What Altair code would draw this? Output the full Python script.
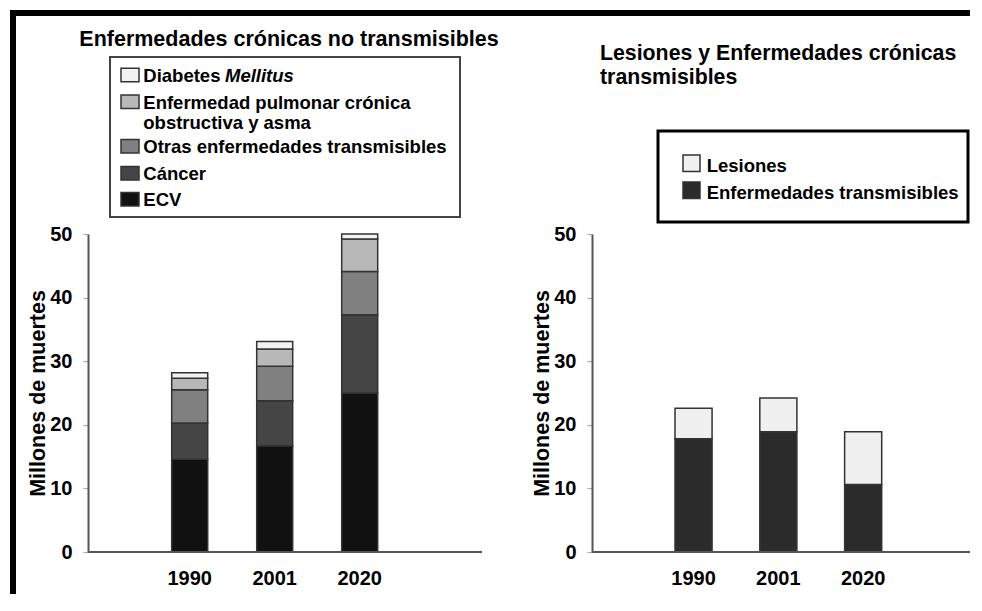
import altair as alt
import pandas as pd

FONT = "Liberation Sans"

# ---------------- data ----------------
years = ["1990", "2001", "2020"]

# Left panel: Enfermedades crónicas no transmisibles (millones de muertes)
ecv = [14.6, 16.7, 25.0]
cancer = [5.7, 7.1, 12.3]
otras = [5.2, 5.4, 6.8]
epoc = [1.8, 2.7, 5.1]
diabetes = [0.9, 1.2, 0.8]

left_names = ["ECV", "Cáncer", "Otras enfermedades transmisibles",
              "Enfermedad pulmonar crónica obstructiva y asma", "Diabetes Mellitus"]
left_colors = ["#111111", "#454545", "#808080", "#b8b8b8", "#f2f2f2"]

# Right panel: Lesiones y Enfermedades crónicas transmisibles
transmisibles = [17.8, 18.9, 10.6]
lesiones = [4.8, 5.3, 8.3]
right_names = ["Enfermedades transmisibles", "Lesiones"]
right_colors = ["#2b2b2b", "#f0f0f0"]

left_title = "Enfermedades crónicas no transmisibles"
right_title = ["Lesiones y Enfermedades crónicas", "transmisibles"]
y_title = "Millones de muertes"
y_ticks = [0, 10, 20, 30, 40, 50]

# legend label texts (top to bottom), as printed
left_legend_lines = [["Diabetes"], ["Enfermedad pulmonar crónica", "obstructiva y asma"],
                     ["Otras enfermedades transmisibles"], ["Cáncer"], ["ECV"]]
right_legend_lines = [["Lesiones"], ["Enfermedades transmisibles"]]

# ---------------- tables ----------------
rows = []
for rank, (name, vals) in enumerate(zip(left_names, [ecv, cancer, otras, epoc, diabetes])):
    for yr, v in zip(years, vals):
        rows.append({"year": yr, "cat": name, "value": v, "rank": rank})
df_left = pd.DataFrame(rows)

rows = []
for rank, (name, vals) in enumerate(zip(right_names, [transmisibles, lesiones])):
    for yr, v in zip(years, vals):
        rows.append({"year": yr, "cat": name, "value": v, "rank": rank})
df_right = pd.DataFrame(rows)

one = pd.DataFrame({"k": [0]})

W, H = 394, 318
W2 = 378


def x_enc(r0, r1, pi):
    return alt.X(
        "year:N", sort=years, title=None,
        scale=alt.Scale(range=[r0, r1], paddingInner=pi, paddingOuter=0),
        axis=alt.Axis(labelAngle=0, ticks=False, tickSize=0, labelPadding=16,
                      labelFont=FONT, labelFontSize=20, labelFontWeight="bold",
                      labelColor="black", domain=False, grid=False),
    )


def y_enc():
    return alt.Y(
        "value:Q", stack="zero",
        scale=alt.Scale(domain=[0, 50], nice=False),
        axis=alt.Axis(values=y_ticks, title=y_title, grid=False,
                      tickColor="#aaa", tickSize=5, tickWidth=1.2,
                      labelFont=FONT, labelFontSize=20, labelFontWeight="bold",
                      labelColor="black", labelPadding=11,
                      domainColor="#555", domainWidth=2,
                      titleFont=FONT, titleFontSize=21.5, titleFontWeight="bold",
                      titleColor="black", titleX=-44, titleBaseline="alphabetic"),
    )


def text(txt, x, y, size=18.5, align="left", baseline="alphabetic", style="normal", lh=None):
    kw = dict(font=FONT, fontSize=size, fontWeight="bold", color="black",
              align=align, baseline=baseline, fontStyle=style)
    if lh is not None:
        kw["lineHeight"] = lh
    return alt.Chart(one).mark_text(**kw).encode(
        x=alt.value(x), y=alt.value(y), text=alt.value(txt))


def box(x1, x2, y1, y2, color, sw=0, filled=False, stroke=None):
    if filled:
        kw = dict(color=color)
        if stroke:
            kw.update(stroke=stroke, strokeWidth=sw)
        m = alt.Chart(one).mark_rect(**kw)
    else:
        m = alt.Chart(one).mark_rect(fillOpacity=0, stroke=color, strokeWidth=sw)
    return m.encode(x=alt.value(x1), x2=alt.value(x2), y=alt.value(y1), y2=alt.value(y2))


def baseline(w):
    return alt.Chart(one).mark_rule(color="#555", strokeWidth=2).encode(
        x=alt.value(0), x2=alt.value(w), y=alt.value(H))


def bars(df, names, colors, r0, r1, pi):
    return alt.Chart(df).mark_bar(stroke="#333", strokeWidth=1.5).encode(
        x=x_enc(r0, r1, pi),
        y=y_enc(),
        color=alt.Color("cat:N", scale=alt.Scale(domain=names, range=colors), legend=None),
        order=alt.Order("rank:Q", sort="ascending"),
    )


# ---------------- left panel ----------------
left_layers = [
    box(-78, -72, -224, 360, "black", filled=True),     # outer frame (left)
    box(-78, 882, -224, -218, "black", filled=True),    # outer frame (top)
    box(22, 372, -177, -17, "#444", 2),                 # legend box
    bars(df_left, left_names, left_colors, 83.7, 289.7, 0.5765),
    baseline(W),
    text(left_title, 201, -188, size=21.5, align="center"),
]
# legend entries: top to bottom = reversed stack order
leg_base = [-152.3, -125.5, -81, -54, -28]
for i, (lines, col, yb) in enumerate(zip(left_legend_lines, left_colors[::-1], leg_base)):
    left_layers.append(box(33, 51, yb - 13.5, yb, col, 1.5, filled=True, stroke="#333"))
    if len(lines) == 1:
        left_layers.append(text(lines[0], 55.3, yb))
    else:
        left_layers.append(text(lines, 55.3, yb, lh=20))
left_layers.append(text("Mellitus", 137, leg_base[0], style="italic"))

left = alt.layer(*left_layers).properties(width=W, height=H)

# ---------------- right panel ----------------
right_layers = [
    box(66, 376, -103, -12, "black", 3),
    bars(df_right, right_names, right_colors, 83, 289.7, 0.563),
    baseline(W2),
    text(right_title, 8, -174, size=21.3, lh=23.5),
]
r_base = [-62.5, -35.5]
for lines, col, yb in zip(right_legend_lines, right_colors[::-1], r_base):
    right_layers.append(box(91, 108, yb - 16.5, yb, col, 1.5, filled=True, stroke="#333"))
    right_layers.append(text(lines[0], 114.7, yb + 0.8))

right = alt.layer(*right_layers).properties(width=W2, height=H)

chart = alt.hconcat(left, right, spacing=110, bounds="flush").resolve_scale(
    color="independent", x="independent", y="independent"
).properties(
    padding={"left": 2, "top": 2, "right": 0, "bottom": 0},
    background="white",
).configure_view(stroke=None)

chart.save("out.html", embed_options={"renderer": "svg", "actions": False})
